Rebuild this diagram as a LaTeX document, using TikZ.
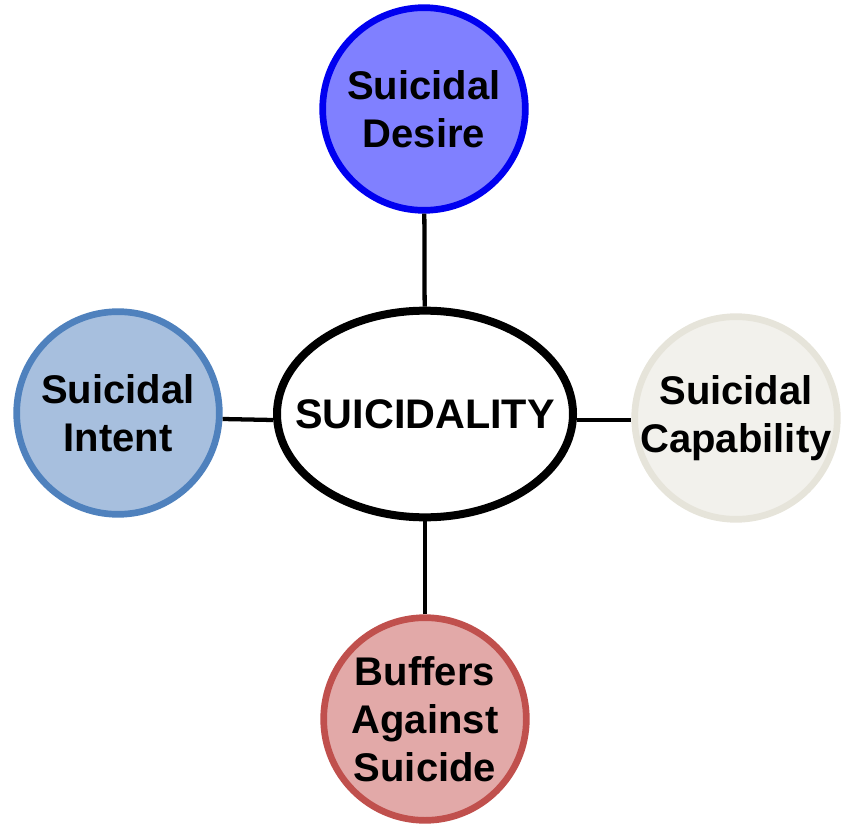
\documentclass[tikz,border=0pt]{standalone}
\usepackage{fontspec}
\setmainfont{Liberation Sans}
\usetikzlibrary{shapes.geometric}

\definecolor{desirefill}{HTML}{8080FF}
\definecolor{desireline}{HTML}{0000F0}
\definecolor{intentfill}{HTML}{A7BFDE}
\definecolor{intentline}{HTML}{4F81BD}
\definecolor{capfill}{HTML}{F2F1EC}
\definecolor{capline}{HTML}{E6E4DA}
\definecolor{bufferfill}{HTML}{E2A9A8}
\definecolor{bufferline}{HTML}{C0504D}

\tikzset{
  bubble/.style={circle, minimum size=152pt, inner sep=0pt, line width=5pt},
  bubbletext/.style={align=center, font=\bfseries\fontsize{30}{36}\selectfont},
  link/.style={line width=3.2pt, black}
}

\begin{document}
\begin{tikzpicture}[x=0.75pt, y=-0.75pt]
    \useasboundingbox (0,0) rectangle (845,827);

    % Centre
    \node[ellipse, draw, line width=6pt, minimum width=222pt, minimum height=155pt, inner sep=0pt,
          font=\bfseries\fontsize{31}{36}\selectfont] (core) at (425,414) {\makebox[0pt]{SUICIDALITY}};

    % Outer circles
    \node[bubble, draw=desireline, fill=desirefill, label={[bubbletext]center:Suicidal\\Desire}] (desire) at (424,109) {};
    \node[bubble, draw=intentline, fill=intentfill, label={[bubbletext]center:Suicidal\\Intent}] (intent) at (118,413) {};
    \node[bubble, draw=capline, fill=capfill, label={[bubbletext]center:Suicidal\\Capability}] (capability) at (736,418) {};
    \node[bubble, draw=bufferline, fill=bufferfill, label={[bubbletext]center:Buffers\\Against\\Suicide}] (buffers) at (425,719) {};

    % Links
    \draw[link] (desire) -- (core);
    \draw[link] ([yshift=-4.5pt]intent.east) -- ([yshift=-4.5pt]core.west);
    \draw[link] ([yshift=-4.5pt]core.east) -- ([yshift=-1.5pt]capability.west);
    \draw[link] (buffers) -- (core);
\end{tikzpicture}
\end{document}
